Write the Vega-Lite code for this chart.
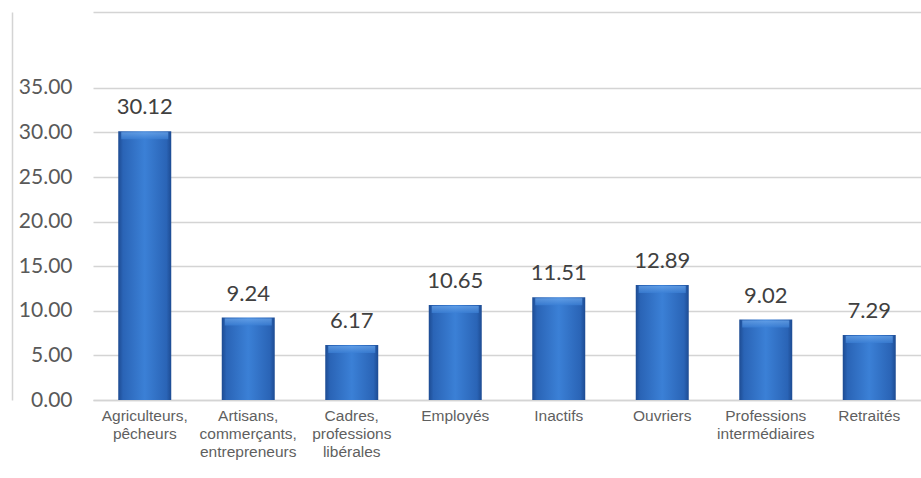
{
  "$schema": "https://vega.github.io/schema/vega-lite/v6.json",
  "width": 828,
  "height": 388,
  "autosize": {"type": "none"},
  "padding": {"left": 93, "top": 12, "right": 0, "bottom": 78},
  "background": "white",
  "config": {"view": {"stroke": null}},
  "data": {
    "values": [
      {"cat": "Agriculteurs,\npêcheurs", "v": 30.12},
      {"cat": "Artisans,\ncommerçants,\nentrepreneurs", "v": 9.24},
      {"cat": "Cadres,\nprofessions\nlibérales", "v": 6.17},
      {"cat": "Employés", "v": 10.65},
      {"cat": "Inactifs", "v": 11.51},
      {"cat": "Ouvriers", "v": 12.89},
      {"cat": "Professions\nintermédiaires", "v": 9.02},
      {"cat": "Retraités", "v": 7.29}
    ]
  },
  "encoding": {
    "x": {
      "field": "cat", "type": "nominal", "sort": null,
      "scale": {"paddingInner": 0.488, "paddingOuter": 0.244},
      "axis": {
        "title": null, "labelAngle": 0, "ticks": false, "domain": true,
        "domainColor": "#d4d4d4", "domainWidth": 1.5,
        "labelFont": "Liberation Sans", "labelFontSize": 15.5, "labelColor": "#5f5f5f",
        "labelPadding": 8, "labelLineHeight": 18, "labelExpr": "split(datum.label, '\\n')"
      }
    },
    "y": {
      "field": "v", "type": "quantitative",
      "scale": {"domain": [0, 43.5], "nice": false, "zero": true}
    }
  },
  "layer": [
    {
      "mark": {
        "type": "bar",
        "color": {
          "gradient": "linear", "x1": 0, "y1": 0, "x2": 1, "y2": 0,
          "stops": [
            {"offset": 0, "color": "#1d4b92"},
            {"offset": 0.09, "color": "#2a64b6"},
            {"offset": 0.5, "color": "#3b80d6"},
            {"offset": 0.91, "color": "#2a64b6"},
            {"offset": 1, "color": "#1d4b92"}
          ]
        }
      },
      "encoding": {
        "y": {
          "field": "v", "type": "quantitative",
          "axis": {
            "title": null, "values": [0, 5, 10, 15, 20, 25, 30, 35, 43.5],
            "labelExpr": "datum.value > 40 ? '' : format(datum.value, '.2f')",
            "grid": true, "gridColor": "#d4d4d4", "gridWidth": 1.5,
            "ticks": false, "domain": false,
            "labelFont": "Lato", "labelFontSize": 21, "labelColor": "#595959",
            "labelPadding": 21
          }
        }
      }
    },
    {
      "mark": {
        "type": "tick", "orient": "horizontal", "thickness": 7, "yOffset": 4.5, "size": 47,
        "color": {
          "gradient": "linear", "x1": 0, "y1": 0, "x2": 0, "y2": 1,
          "stops": [
            {"offset": 0, "color": "#6fa9ec"},
            {"offset": 1, "color": "#3b80d6"}
          ]
        }
      },
      "encoding": {
        "y": {"field": "v", "type": "quantitative", "axis": null}
      }
    },
    {
      "mark": {
        "type": "text", "baseline": "alphabetic", "dy": -17,
        "font": "Lato", "fontSize": 22, "color": "#404040"
      },
      "encoding": {
        "y": {"field": "v", "type": "quantitative", "axis": null},
        "text": {"field": "v", "type": "quantitative", "format": ".2f"}
      }
    },
    {
      "mark": {"type": "rule", "opacity": 0},
      "encoding": {
        "y": {
          "field": "v", "type": "quantitative",
          "axis": {
            "orient": "left", "offset": 81, "title": null, "labels": false,
            "ticks": false, "grid": false, "domain": true,
            "domainColor": "#d4d4d4", "domainWidth": 1.5
          }
        }
      }
    }
  ],
  "resolve": {"axis": {"y": "independent"}}
}
